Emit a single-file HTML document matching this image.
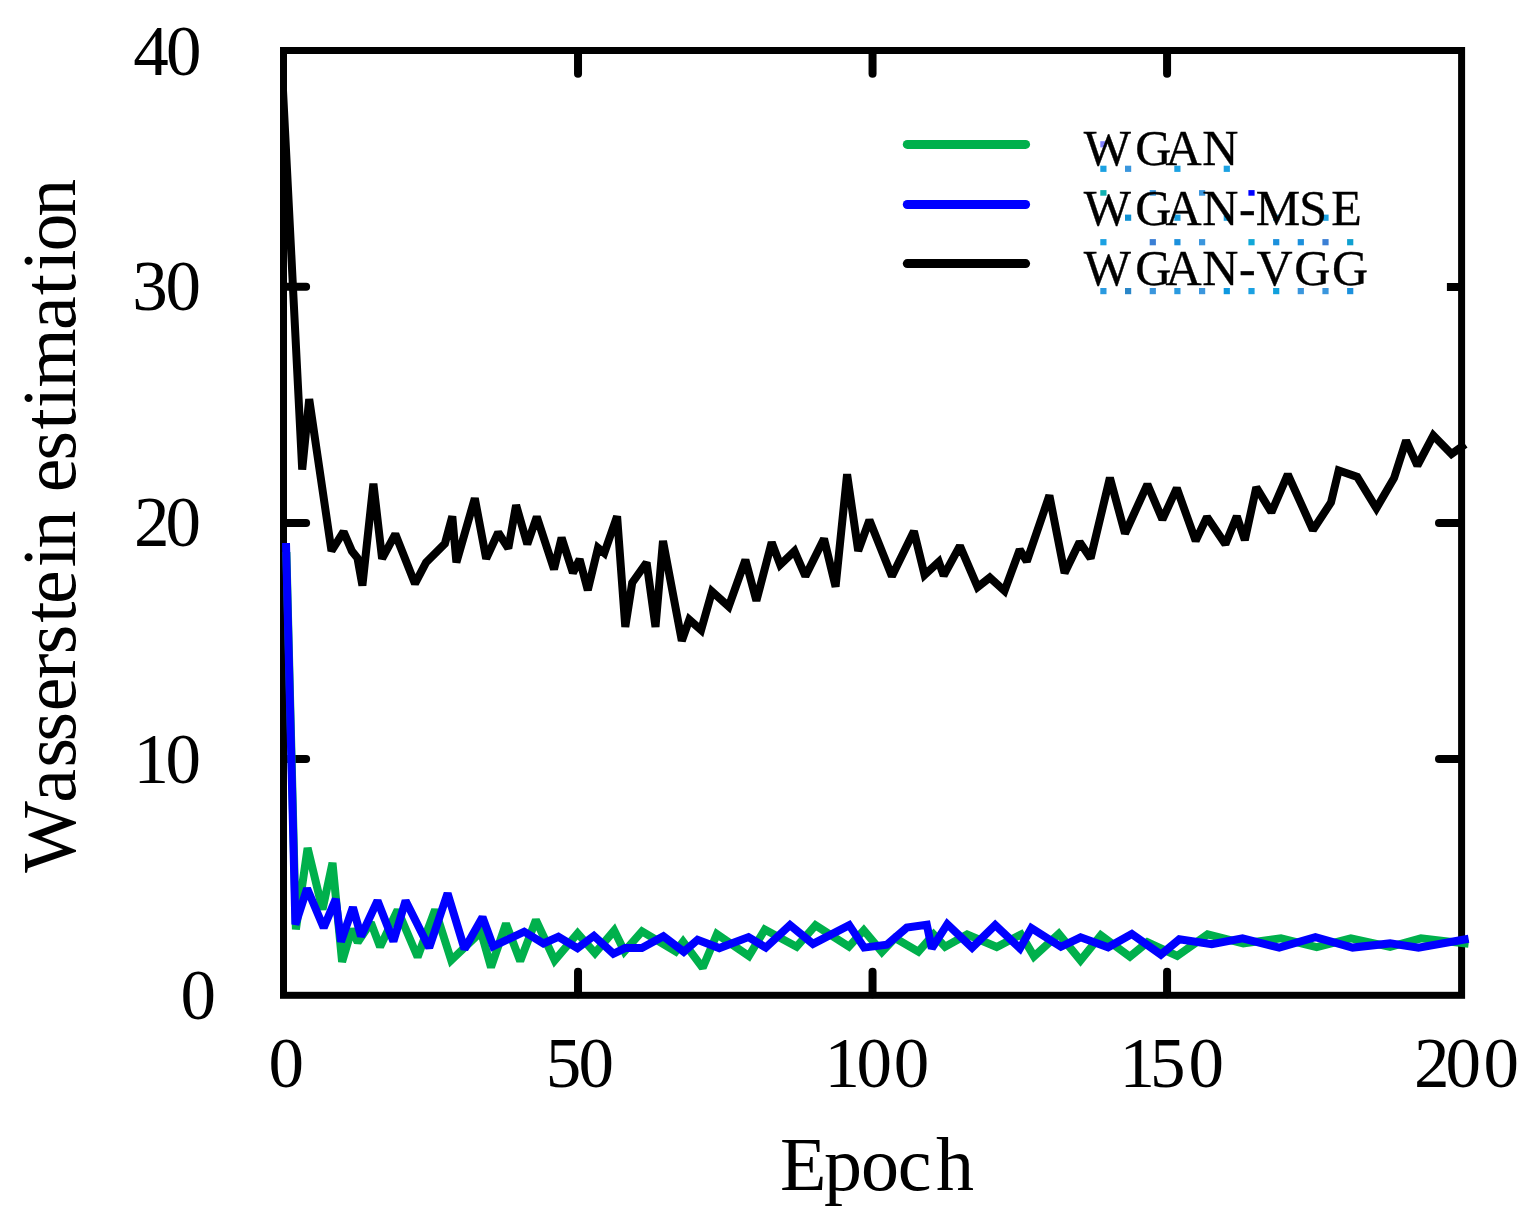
<!DOCTYPE html>
<html lang="en">
<head>
<meta charset="utf-8">
<title>Wasserstein estimation vs. Epoch</title>
<style>
html, body { margin: 0; padding: 0; background: #ffffff; }
body { width: 1537px; height: 1229px; overflow: hidden; }
svg { display: block; }
text { font-family: "Liberation Serif", "Times New Roman", serif; fill: #000; font-kerning: none; }
.tick { font-size: 71px; }
.title { font-size: 76px; }
.leg { font-size: 50px; stroke: #000; stroke-width: 0.35px; }
</style>
</head>
<body>
<svg width="1537" height="1229" viewBox="0 0 1537 1229">
<defs><clipPath id="plotclip"><rect x="280.1" y="47" width="1190" height="952"/></clipPath></defs>
<rect x="0" y="0" width="1537" height="1229" fill="#ffffff"/>

<!-- frame and ticks -->
<rect x="283.5" y="50.5" width="1178.1" height="944.8" fill="none" stroke="#000" stroke-width="7"/>
<g stroke="#000" stroke-width="8" stroke-linecap="round">
<line x1="284.5" y1="286.7" x2="306.1" y2="286.7"/>
<line x1="578.025" y1="51.5" x2="578.025" y2="73.8"/>
<line x1="578.025" y1="994.3" x2="578.025" y2="971.8"/>
<line x1="284.5" y1="522.9" x2="306.1" y2="522.9"/>
<line x1="1460.6" y1="522.9" x2="1439" y2="522.9"/>
<line x1="872.55" y1="51.5" x2="872.55" y2="73.8"/>
<line x1="872.55" y1="994.3" x2="872.55" y2="971.8"/>
<line x1="284.5" y1="759.1" x2="306.1" y2="759.1"/>
<line x1="1460.6" y1="759.1" x2="1439" y2="759.1"/>
<line x1="1167.07" y1="51.5" x2="1167.07" y2="73.8"/>
<line x1="1167.07" y1="994.3" x2="1167.07" y2="971.8"/>
</g>
<line x1="1460.6" y1="287" x2="1446.9" y2="287" stroke="#000" stroke-width="8" stroke-linecap="butt"/>

<!-- data series -->
<g fill="none" stroke-width="8" stroke-linejoin="miter" stroke-miterlimit="2" stroke-linecap="butt">
<polyline stroke="#000000" clip-path="url(#plotclip)" points="281.3,57 302.2,469.6 309.2,399.2 331.5,551 343.6,531.7 351.9,551.1 357.4,557.9 362.4,585.5 373.4,483.6 382.1,558.7 395.3,534.1 415,583.7 426.1,562.4 444.9,543.6 452.3,516.4 456.4,562.4 474.8,498.3 486.2,558.7 498.2,532.5 508.3,548.4 516.1,505.1 527.3,544.2 536.8,516.7 554,569.3 561.6,537.7 572.9,572.9 579.6,559.3 587.8,590.1 598,547.9 604.3,553.1 617.1,516.2 625.3,626.9 632.2,582.8 646.6,562.5 655.5,626.9 663,540.9 681.8,640.8 689.3,619.7 701.1,630.1 712,591.6 728.7,606.6 745.4,559.8 756.4,600.8 771.7,542.3 780.2,564.8 794.5,551.2 805.4,576.2 824,538.7 835.6,586.7 847.1,474.2 858.2,550.9 869.4,520.1 891.9,576.2 913.9,531.2 924.6,574.9 938.8,561.9 943.7,575.7 959.9,545.9 977.6,587.2 989.8,577.6 1004.5,590.9 1019.7,549.6 1026.8,561.4 1049.4,495.4 1064.6,573.1 1079.6,541.9 1090.6,558.3 1109.9,477.7 1125,533.5 1147.4,484.3 1162.4,519.5 1176.8,488.2 1195.7,540.9 1207,516.9 1225.4,544.3 1236.8,516.3 1244.8,540.1 1256.3,487.4 1271.4,512.3 1287.8,474.3 1312.9,530 1331,502.4 1338.7,470.4 1357.2,476.9 1376.4,508.3 1394.1,477.9 1406.1,440.6 1417.4,465.6 1433.3,435.4 1451.5,454.1 1465.2,444.3"/>
<polyline stroke="#00b04c" points="286.4,552 295.9,929.4 307.6,848 322.5,909.5 332.5,862.8 342.1,961.8 351.8,929 357.7,942.3 370.9,922.6 380.1,946.9 397.6,910 417.6,957 435.1,909.7 451.2,960.3 481,931.8 491,967.3 506,923.6 520.2,961.2 535.9,920 554.7,960.3 577.6,933.4 595,953.2 614.2,930.6 624.4,951.3 642,931.4 675.7,951.5 683.1,941.7 702.7,967.8 716.9,934.1 748.9,956.1 764.8,929.6 796.6,946.7 815.5,925.3 848.9,946.6 863.8,930.3 881.9,951.9 895,938.1 918.4,951.7 933.6,934.4 945.1,946.7 967.1,934.5 996.7,947 1021,934.5 1034,956.4 1058.8,933.9 1080.5,960.4 1100.8,935.2 1129.9,956.7 1147.4,942.3 1177.2,956 1207.6,934.4 1243.3,943.4 1280.9,938.4 1316.7,947.1 1350.9,938.4 1390.1,946.8 1421,938.4 1468.6,943.9"/>
<polyline stroke="#0000ff" points="286,543 295.4,924.4 307.1,888.5 323.7,927.7 335.7,899.1 341,941.7 352.9,907.4 361,936.2 377.5,900.8 393.4,941.3 405.6,900.7 429.2,947.7 447.6,893.3 464.5,949 482.5,917.1 493.2,946.3 524.2,931.7 543.4,943.4 558.4,936.8 577.5,948.1 593.9,935.9 613.4,953.8 625.1,948.1 641.8,948.1 663.4,936.3 683.8,951.8 697.6,939.8 719.3,948.1 748.5,937.1 765.8,947.6 790,925.1 813,943.9 849.2,925.1 864.2,947.6 886.8,944.8 906.8,927.6 926.8,924.7 931.8,948.4 947.3,924.2 972.1,947.6 995.2,925.1 1020,948.4 1031.4,928.1 1060.9,946.8 1080.6,937.3 1108.1,947.3 1131.8,933.9 1160.9,954.6 1179.3,939.3 1211.8,944.3 1242.5,938.4 1279.2,947.6 1315.4,937.1 1352.6,947.6 1390.1,943.4 1418.5,947.6 1468.6,938.8"/>
</g>

<!-- legend -->
<g stroke-width="9" stroke-linecap="round">
<line x1="907.3" y1="144.4" x2="1025.6" y2="144.4" stroke="#00b04c"/>
<line x1="907.3" y1="204.5" x2="1025.6" y2="204.5" stroke="#0000ff"/>
<line x1="907.3" y1="263.6" x2="1025.6" y2="263.6" stroke="#000000"/>
</g>
<g>
<rect x="1100.3" y="141.2" width="6.2" height="6.2" fill="#8080ff"/>
<rect x="1100.3" y="165.7" width="6.2" height="6.2" fill="#1ba1e2"/>
<rect x="1125.0" y="165.7" width="6.2" height="6.2" fill="#3a96dd"/>
<rect x="1174.3" y="165.7" width="6.2" height="6.2" fill="#1ba1e2"/>
<rect x="1223.7" y="165.7" width="6.2" height="6.2" fill="#1ba1e2"/>
<rect x="1100.3" y="190.1" width="6.2" height="5.6" fill="#10b0b0"/>
<rect x="1149.7" y="190.1" width="6.2" height="5.6" fill="#3a96dd"/>
<rect x="1199.0" y="190.1" width="6.2" height="5.6" fill="#3a96dd"/>
<rect x="1248.4" y="190.1" width="6.2" height="5.6" fill="#0000ff"/>
<rect x="1125.0" y="214.6" width="6.2" height="6.2" fill="#0e90d2"/>
<rect x="1174.3" y="214.6" width="6.2" height="6.2" fill="#1ba1e2"/>
<rect x="1223.7" y="214.6" width="6.2" height="6.2" fill="#1ba1e2"/>
<rect x="1273.1" y="214.6" width="6.2" height="6.2" fill="#1ba1e2"/>
<rect x="1322.4" y="214.6" width="6.2" height="6.2" fill="#1ba1e2"/>
<rect x="1100.3" y="239.1" width="6.2" height="6.2" fill="#1ba1e2"/>
<rect x="1149.7" y="239.1" width="6.2" height="6.2" fill="#3a7fd5"/>
<rect x="1174.3" y="239.1" width="6.2" height="6.2" fill="#1b90dc"/>
<rect x="1199.0" y="239.1" width="6.2" height="6.2" fill="#3a96dd"/>
<rect x="1248.4" y="239.1" width="6.2" height="6.2" fill="#10a8d8"/>
<rect x="1273.1" y="239.1" width="6.2" height="6.2" fill="#1b90dc"/>
<rect x="1297.7" y="239.1" width="6.2" height="6.2" fill="#1b90dc"/>
<rect x="1322.4" y="239.1" width="6.2" height="6.2" fill="#3a7fd5"/>
<rect x="1347.1" y="239.1" width="6.2" height="6.2" fill="#10a0d0"/>
<rect x="1100.3" y="288.0" width="6.2" height="6.2" fill="#2a9ae0"/>
<rect x="1125.0" y="288.0" width="6.2" height="6.2" fill="#2a86c8"/>
<rect x="1149.7" y="288.0" width="6.2" height="6.2" fill="#3a96dd"/>
<rect x="1174.3" y="288.0" width="6.2" height="6.2" fill="#2a9ae0"/>
<rect x="1199.0" y="288.0" width="6.2" height="6.2" fill="#3a96dd"/>
<rect x="1223.7" y="288.0" width="6.2" height="6.2" fill="#0e98e0"/>
<rect x="1248.4" y="288.0" width="6.2" height="6.2" fill="#1ba1e2"/>
<rect x="1273.1" y="288.0" width="6.2" height="6.2" fill="#10a0dc"/>
<rect x="1297.7" y="288.0" width="6.2" height="6.2" fill="#3a96dd"/>
<rect x="1322.4" y="288.0" width="6.2" height="6.2" fill="#3a96dd"/>
<rect x="1347.1" y="288.0" width="6.2" height="6.2" fill="#1b90dc"/>
</g>
<text class="leg" x="1083.8 1135.2 1165.5 1202.3" y="165.3">WGAN</text>
<text class="leg" x="1083.8 1135.2 1165.5 1202.3 1239.05 1255.65 1299.3 1331.2" y="224.9">WGAN-MSE</text>
<text class="leg" x="1083.8 1135.2 1165.5 1202.3 1239.05 1256.45 1294.2 1332.05" y="284.8">WGAN-VGG</text>

<!-- y tick labels -->
<g class="tick">
<text x="133.25 166.05" y="74.7">40</text>
<text x="132.2 165.4" y="310.3">30</text>
<text x="134.05 165.4" y="545.9">20</text>
<text x="133.6 165.4" y="782.9">10</text>
<text x="180.55" y="1019.3">0</text>
</g>
<!-- x tick labels -->
<g class="tick">
<text x="268.45" y="1087.3">0</text>
<text x="545.85 578.55" y="1087.3">50</text>
<text x="824.6 856.5 893.65" y="1087.3">100</text>
<text x="1119.6 1150.05 1188.5" y="1087.3">150</text>
<text x="1413.9 1445.45 1483.5" y="1087.3">200</text>
</g>

<!-- axis titles -->
<text class="title" x="780 823.9 861 897.85 936.1" y="1190">Epoch</text>
<text class="title" transform="translate(75.2 872.83) rotate(-90)" x="0 70.09 105.36 131.41 161.59 193.85 218.56 249.97 268.74 305.7 324.38 362 380.64 412.41 443.32 464.8 485.22 542.89 577.52 602.1 621.23 656.08" y="0">Wasserstein estimation</text>
</svg>
</body>
</html>
